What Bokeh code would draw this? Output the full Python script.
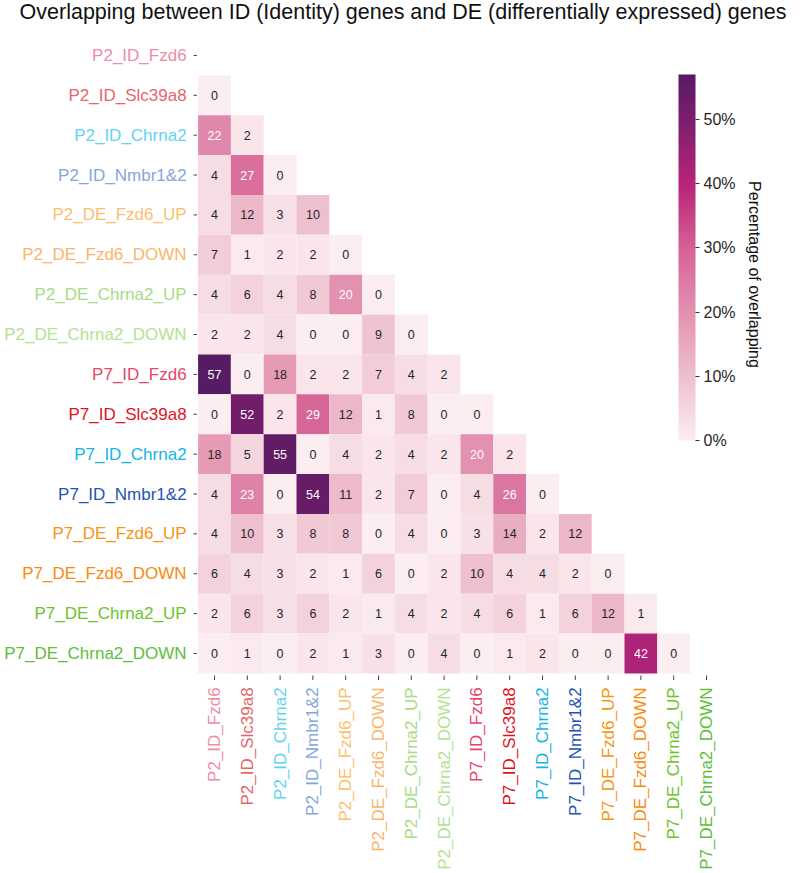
import numpy as np
from bokeh.plotting import figure
from bokeh.models import (ColumnDataSource, LinearColorMapper, ColorBar, FixedTicker,
                          PrintfTickFormatter, Range1d)
from bokeh.transform import transform
from bokeh.core.properties import value
from bokeh.embed import file_html
from bokeh.resources import INLINE

names = ["P2_ID_Fzd6", "P2_ID_Slc39a8", "P2_ID_Chrna2", "P2_ID_Nmbr1&2",
         "P2_DE_Fzd6_UP", "P2_DE_Fzd6_DOWN", "P2_DE_Chrna2_UP", "P2_DE_Chrna2_DOWN",
         "P7_ID_Fzd6", "P7_ID_Slc39a8", "P7_ID_Chrna2", "P7_ID_Nmbr1&2",
         "P7_DE_Fzd6_UP", "P7_DE_Fzd6_DOWN", "P7_DE_Chrna2_UP", "P7_DE_Chrna2_DOWN"]

label_colors = ["#F08CA4", "#E8656E", "#62D3F2", "#86A6DA",
                "#FBBF6E", "#FAB56A", "#A6DC84", "#B4E290",
                "#E8456A", "#E0141E", "#14B4E8", "#1F54B4",
                "#F99410", "#F98A0C", "#6CC42A", "#5EBE3A"]

# lower triangle (row i has values for columns 0..i-1), percent of overlapping
row_values = [
    [],
    [0],
    [22, 2],
    [4, 27, 0],
    [4, 12, 3, 10],
    [7, 1, 2, 2, 0],
    [4, 6, 4, 8, 20, 0],
    [2, 2, 4, 0, 0, 9, 0],
    [57, 0, 18, 2, 2, 7, 4, 2],
    [0, 52, 2, 29, 12, 1, 8, 0, 0],
    [18, 5, 55, 0, 4, 2, 4, 2, 20, 2],
    [4, 23, 0, 54, 11, 2, 7, 0, 4, 26, 0],
    [4, 10, 3, 8, 8, 0, 4, 0, 3, 14, 2, 12],
    [6, 4, 3, 2, 1, 6, 0, 2, 10, 4, 4, 2, 0],
    [2, 6, 3, 6, 2, 1, 4, 2, 4, 6, 1, 6, 12, 1],
    [0, 1, 0, 2, 1, 3, 0, 4, 0, 1, 2, 0, 0, 42, 0],
]

cbar_ticks = [0, 10, 20, 30, 40, 50]
cbar_max = 57
title_text = "Overlapping between ID (Identity) genes and DE (differentially expressed) genes"
cbar_title = "Percentage of overlapping"

# ---------------- layout geometry (pixels) ----------------
W, H = 800, 873
X0, Y0 = 197.6, 35.0        # top-left corner of the heatmap grid
CW, CH = 32.8, 39.87        # cell size
n = len(names)

def dx(px):
    return (px - X0) / CW

def dy(py):
    return (py - Y0) / CH

# ---------------- colormap ----------------
stops = [(0, (251, 237, 240)), (10, (238, 191, 206)), (20, (226, 145, 176)),
         (30, (214, 97, 150)), (40, (184, 36, 121)), (50, (124, 30, 110)),
         (57, (86, 27, 98))]
sv = np.array([s[0] for s in stops], dtype=float)
sc = np.array([s[1] for s in stops], dtype=float)
palette = []
for t in np.linspace(0, cbar_max, 256):
    rgb = [int(round(np.interp(t, sv, sc[:, k]))) for k in range(3)]
    palette.append("#%02x%02x%02x" % tuple(rgb))
mapper = LinearColorMapper(palette=palette, low=0, high=cbar_max)

# ---------------- data sources ----------------
xs, ys, vals, txt, tcol = [], [], [], [], []
for i, row in enumerate(row_values):
    for j, v in enumerate(row):
        xs.append(j + 0.5); ys.append(i + 0.5); vals.append(v)
        txt.append(str(v)); tcol.append("#ffffff" if v >= 20 else "#262626")
src = ColumnDataSource(dict(x=xs, y=ys, v=vals, t=txt, tc=tcol))

idx = np.arange(n) + 0.5
lab_src = ColumnDataSource(dict(pos=idx, t=names, c=label_colors,
                                zero=np.zeros(n), full=np.full(n, float(n))))

FONT = "Liberation Sans"

p = figure(width=W, height=H, output_backend="svg", toolbar_location=None,
           x_range=Range1d(dx(0), dx(W)), y_range=Range1d(dy(H), dy(0)),
           x_axis_location=None, y_axis_location=None,
           min_border=0, min_border_left=0, min_border_right=0,
           min_border_top=0, min_border_bottom=0)
p.outline_line_color = None
p.grid.visible = False

# heatmap cells + annotations
p.rect(x="x", y="y", width=1, height=1, source=src,
       fill_color=transform("v", mapper), line_color=None)
p.text(x="x", y="y", text="t", source=src, text_color="tc", text_font=value(FONT),
       text_font_size="12.5px", text_align="center", text_baseline="middle")

# tick marks
p.segment(x0=dx(193), x1=dx(196.5), y0="pos", y1="pos", source=lab_src,
          line_color="#444444", line_width=1)
p.segment(x0="pos", x1="pos", y0=dy(675), y1=dy(679.5), source=lab_src,
          line_color="#444444", line_width=1)

# coloured row labels
p.text(x="zero", y="pos", text="t", source=lab_src, text_color="c",
       text_font=value(FONT), text_font_size="17px",
       text_align="right", text_baseline="middle", x_offset=-11.5)
# coloured column labels (vertical)
p.text(x="pos", y="full", text="t", source=lab_src, text_color="c",
       text_font=value(FONT), text_font_size="17px", angle=np.pi / 2,
       text_align="right", text_baseline="middle", y_offset=14)

# title
p.text(x=[dx(402.5)], y=[dy(11)], text=[title_text], text_font=value(FONT),
       text_font_size="21.5px", text_color="#111111", text_align="center",
       text_baseline="middle")

# colour bar
cb = ColorBar(color_mapper=mapper, location=(678, H - 440), width=17, height=366,
              ticker=FixedTicker(ticks=cbar_ticks), formatter=PrintfTickFormatter(format="%d%%"),
              major_label_text_font=FONT, major_label_text_font_size="16px",
              major_label_text_color="#262626", major_tick_out=4, major_tick_in=0,
              major_tick_line_color="#333333", label_standoff=4, bar_line_color=None,
              background_fill_alpha=0, border_line_color=None, padding=0)
p.add_layout(cb, "center")

p.text(x=[dx(754)], y=[dy(274)], text=[cbar_title], angle=-np.pi / 2,
       text_font=value(FONT), text_font_size="16px", text_color="#111111",
       text_align="center", text_baseline="middle")

open("out.html", "w").write(file_html(p, INLINE))
